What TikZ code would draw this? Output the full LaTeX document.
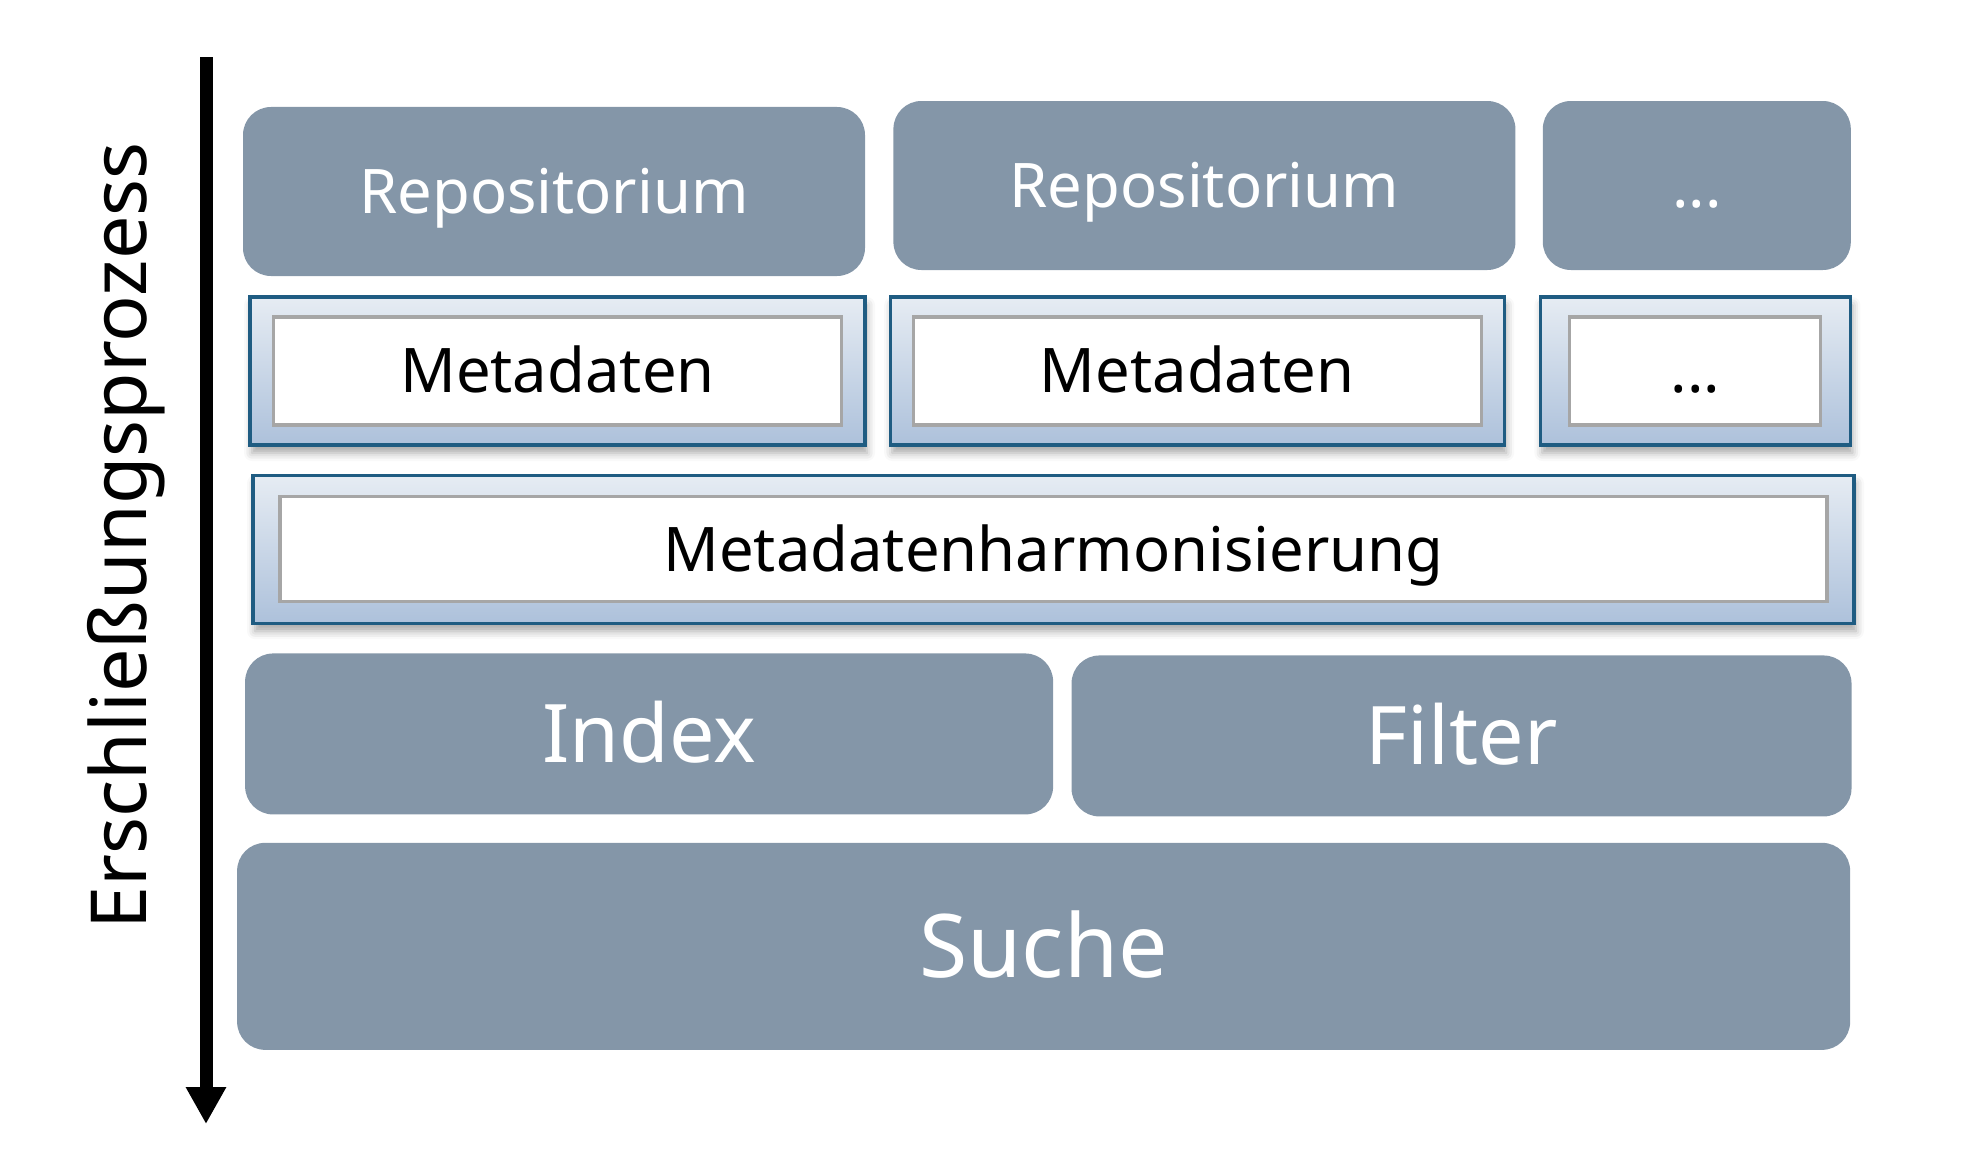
\documentclass[tikz,border=0pt]{standalone}
\usepackage{fontspec}
\setmainfont{Noto Sans}
\usepackage{xcolor}
\usepackage{tikz}
\usetikzlibrary{arrows.meta,positioning,shadows.blur}

\definecolor{slate}{HTML}{8496A8}
\definecolor{mdedge}{HTML}{1F5C82}
\definecolor{mdtop}{HTML}{E6ECF3}
\definecolor{mdbottom}{HTML}{ADC1DB}
\definecolor{mdgray}{HTML}{A6A6A6}

\begin{document}
\begin{tikzpicture}[
  repo/.style={fill=slate,rounded corners=0.28cm,text=white,inner sep=0pt,minimum height=1.69cm,
    font=\fontsize{17.5}{21}\selectfont,text height=12.5pt,text depth=0pt},
  slab/.style={fill=slate,rounded corners=0.28cm,text=white,inner sep=0pt,minimum height=1.61cm,
    font=\fontsize{23}{27}\selectfont,text height=16.4pt,text depth=0pt},
  mdo/.style={draw=mdedge,line width=0.9pt,top color=mdtop,bottom color=mdbottom,inner sep=0pt,
    minimum height=1.48cm,blur shadow={shadow xshift=0.02cm,shadow yshift=-0.08cm,shadow blur radius=0.08cm,shadow opacity=35}},
  mdi/.style={draw=mdgray,line width=0.9pt,fill=white,inner sep=0pt,minimum height=1.08cm,
    font=\fontsize{17.5}{21}\selectfont,text height=12.5pt,text depth=0pt},
  lbl/.style={rotate=90,inner sep=0pt,font=\fontsize{22}{26}\selectfont},
  a/.style={line width=0.13cm,-{Triangle[width=0.38cm,length=0.37cm]}}]
  \useasboundingbox (0,0) rectangle (19.82,-11.72);
  \node[repo,minimum width=6.22cm] (repoA) at (5.54,-1.915) {Repositorium};
  \node[repo,minimum width=6.22cm,right=0.27cm of repoA,yshift=0.06cm] (repoB) {Repositorium};
  \node[repo,minimum width=3.08cm,right=0.26cm of repoB] (repoC) {...};
  \node[mdo,minimum width=6.15cm] (mdA) at (5.575,-3.71) {};
  \node[mdo,minimum width=6.14cm,right=0.22cm of mdA] (mdB) {};
  \node[mdo,minimum width=3.10cm,right=0.33cm of mdB] (mdC) {};
  \node[mdi,minimum width=5.68cm] (mdAin) at (mdA) {Metadaten};
  \node[mdi,minimum width=5.68cm] (mdBin) at (mdB) {Metadaten};
  \node[mdi,minimum width=2.51cm] (mdCin) at (mdC) {...};
  \node[mdo,minimum width=16.01cm,below=0.27cm of mdA.south west,anchor=north west,xshift=0.03cm] (harm) {};
  \node[mdi,minimum width=15.47cm,minimum height=1.05cm] (harmin) at (harm) {Metadatenharmonisierung};
  \node[slab,minimum width=8.08cm,below=0.28cm of harm.south west,anchor=north west,xshift=-0.07cm] (index) {Index};
  \node[slab,minimum width=7.80cm,right=0.17cm of index,yshift=-0.02cm] (filter) {Filter};
  \node[slab,minimum width=16.13cm,minimum height=2.07cm,below=0.27cm of index.south west,anchor=north west,xshift=-0.08cm,
    font=\fontsize{25}{30}\selectfont,text height=17.9pt] (suche) {Suche};
  \coordinate (flowtop) at (2.06,-0.57);
  \coordinate (flowend) at (2.06,-11.24);
  \draw[a] (flowtop) -- (flowend);
  \node[lbl] (flowlbl) at (1.26,-5.36) {Erschließungsprozess};
\end{tikzpicture}
\end{document}
